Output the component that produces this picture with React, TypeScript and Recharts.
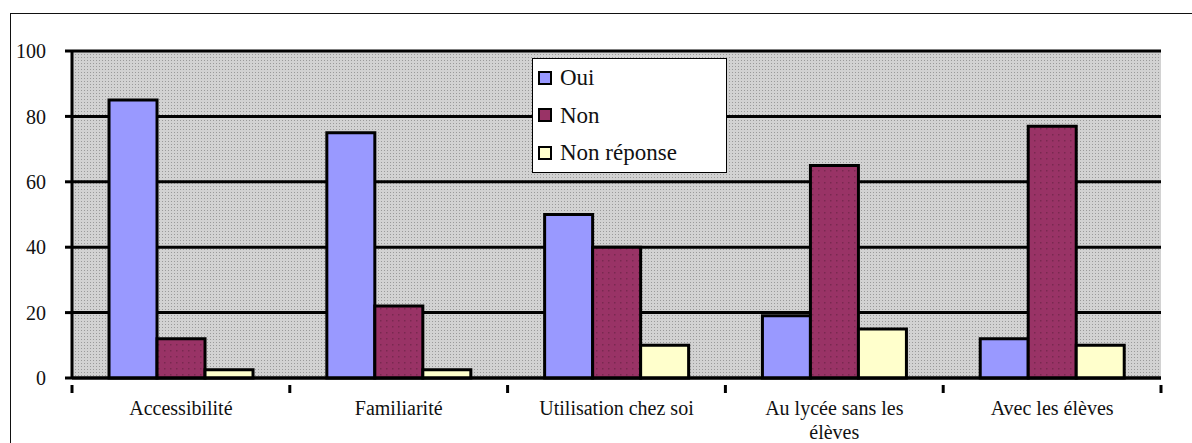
import React from "react";
import { BarChart, Bar, XAxis, YAxis, CartesianGrid, Legend } from "recharts";

const categories = ["Accessibilité", "Familiarité", "Utilisation chez soi", "Au lycée sans les élèves", "Avec les élèves"];
const oui = [85, 75, 50, 19, 12];
const non = [12, 22, 40, 65, 77];
const nonReponse = [2.5, 2.5, 10, 15, 10];
const yTicks = [0, 20, 40, 60, 80, 100];

const seriesNames = ["Oui", "Non", "Non réponse"];
const seriesColors = ["#9999ff", "#993366", "#ffffcc"];

const data = categories.map((c, i) => ({ cat: c, oui: oui[i], non: non[i], nr: nonReponse[i] }));

const W = 1192;
const H = 443;
const M = { top: 51, right: 31, left: 0, bottom: 5 };
const Y_W = 72;
const FONT = '"Liberation Serif", "Times New Roman", Tinos, serif';
const MAX_CHARS = 21;

function wrapLabel(s: string): string[] {
  const words = s.split(" ");
  const lines: string[] = [];
  let cur = "";
  for (const w of words) {
    const next = cur ? cur + " " + w : w;
    if (next.length > MAX_CHARS && cur) {
      lines.push(cur);
      cur = w;
    } else {
      cur = next;
    }
  }
  if (cur) lines.push(cur);
  return lines;
}

const XTick = (props: any) => {
  const { x, y, payload, index } = props;
  const band = (W - M.right - Y_W - M.left) / categories.length;
  const axisY = y;
  const lines = wrapLabel(String(payload.value));
  return (
    <g>
      <line x1={x - band / 2} x2={x - band / 2} y1={axisY - 1} y2={axisY + 7} stroke="#000" strokeWidth={3} />
      {index === categories.length - 1 && (
        <line x1={x + band / 2} x2={x + band / 2} y1={axisY - 1} y2={axisY + 7} stroke="#000" strokeWidth={3} />
      )}
      {lines.map((l, i) => (
        <text
          key={i}
          x={x}
          y={axisY + 29 + i * 24}
          textAnchor="middle"
          fontFamily={FONT}
          fontSize={20}
          fill="#111"
        >
          {l}
        </text>
      ))}
    </g>
  );
};

const LegendBox = () => (
  <div
    style={{
      width: 195,
      height: 115,
      background: "#fff",
      border: "1.5px solid #000",
      boxSizing: "border-box",
      fontFamily: FONT,
      fontSize: 23,
      color: "#111",
      paddingTop: 0,
      paddingLeft: 5,
      textAlign: "left",
      lineHeight: 1,
    }}
  >
    {seriesNames.map((n, i) => (
      <div key={n} style={{ display: "flex", alignItems: "center", height: 37.5 }}>
        <span
          style={{
            display: "inline-block",
            width: 10,
            height: 10,
            background: seriesColors[i],
            border: "2px solid #000",
            marginRight: 8,
          }}
        />
        <span>{n}</span>
      </div>
    ))}
  </div>
);

export default function App() {
  return (
    <div style={{ position: "absolute", left: 0, top: 0, width: W, height: H, background: "#fff", overflow: "hidden", fontFamily: FONT }}>
      <div
        style={{
          position: "absolute",
          left: 10,
          top: 13,
          width: W,
          height: H,
          borderTop: "1.5px solid #111",
          borderLeft: "1.5px solid #111",
        }}
      />
      <div style={{ position: "absolute", left: 0, top: 0 }}>
        <BarChart width={W} height={H} data={data} margin={M} barCategoryGap="17%" barGap={0}>
          <defs>
            <pattern id="bgPat" width="3" height="3" patternUnits="userSpaceOnUse">
              <rect width="3" height="3" fill="#d2d2d2" />
              <rect width="1" height="1" fill="#9a9a9a" />
            </pattern>
            <pattern id="nonPat" width="6" height="6" patternUnits="userSpaceOnUse">
              <rect width="6" height="6" fill="#993366" />
              <rect x="2" y="2" width="1.5" height="1.5" fill="#7a2850" />
            </pattern>
          </defs>
          <CartesianGrid vertical={false} fill="url(#bgPat)" fillOpacity={1} stroke="#000" strokeWidth={3} />
          <XAxis
            dataKey="cat"
            interval={0}
            height={60}
            axisLine={{ stroke: "#000", strokeWidth: 3 }}
            tickLine={false}
            tick={<XTick />}
          />
          <YAxis
            width={Y_W}
            domain={[0, 100]}
            ticks={yTicks}
            interval={0}
            axisLine={{ stroke: "#000", strokeWidth: 3 }}
            tickLine={{ stroke: "#000", strokeWidth: 3 }}
            tickSize={7}
            tickMargin={19}
            tick={{ fontFamily: FONT, fontSize: 20, fill: "#111" }}
          />
          <Legend
            verticalAlign="middle"
            align="center"
            layout="vertical"
            content={<LegendBox />}
            wrapperStyle={{ position: "absolute", left: 532, top: 58, width: 195, height: 115 }}
          />
          <Bar dataKey="oui" name="Oui" fill="#9999ff" stroke="#000" strokeWidth={3} isAnimationActive={false} />
          <Bar dataKey="non" name="Non" fill="url(#nonPat)" stroke="#000" strokeWidth={3} isAnimationActive={false} />
          <Bar dataKey="nr" name="Non réponse" fill="#ffffcc" stroke="#000" strokeWidth={3} isAnimationActive={false} />
        </BarChart>
      </div>
    </div>
  );
}
